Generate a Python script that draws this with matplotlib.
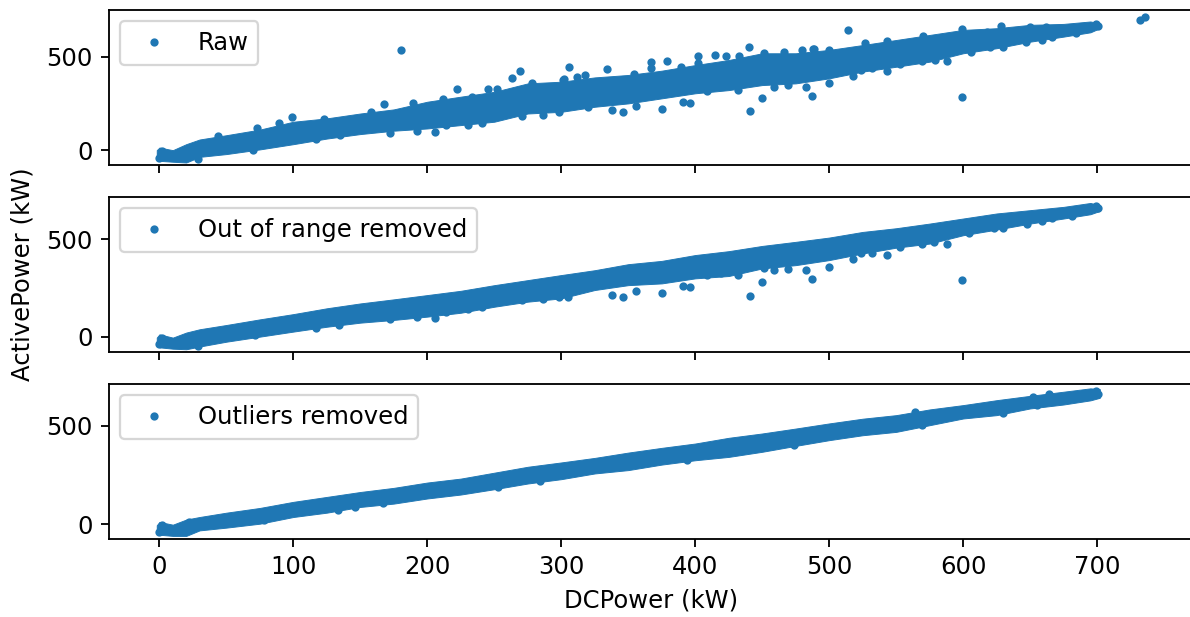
"""DC power vs active power, three cleaning stages."""

import matplotlib
matplotlib.use("Agg")
import matplotlib.pyplot as plt

plt.rcParams["font.size"] = 10.6

# the clouds are too dense to read point by point: keep their edges read off
# the picture at stops along x, plus the single points that can be told apart
raw_x = [-2, 0, 10, 20, 30, 50, 75, 100, 125, 150, 175, 200, 225, 250, 275, 300, 325, 350, 375,
         400, 425, 450, 475, 500, 525, 550, 575, 600, 625, 650, 675, 695, 702]
raw_top = [0, 14, 0, 32, 57, 80, 110, 152, 170, 196, 218, 259, 286, 312, 357, 366, 389, 402, 425,
           455, 482, 518, 518, 536, 562, 589, 616, 643, 652, 670, 675, 688, 678]
raw_low = [-40, -57, -62, -66, -36, -21, 4, 32, 62, 86, 104, 116, 134, 152, 196, 205, 232, 250, 277,
           304, 321, 348, 357, 384, 420, 446, 473, 518, 545, 580, 607, 630, 652]
raw_pts_x = [180, 222, 245, 252, 99, 168, 206, 241, 192, 230, 29, 269, 263, 306, 334, 318, 367, 379,
             402, 415, 423, 433, 440, 514, 338, 346, 356, 375, 391, 396, 441, 450, 459, 469, 483,
             487, 500, 518, 543, 480, 466, 489, 451, 367, 402, 302, 278, 271, 599, 732, 736, 628,
             599, 570, 588, 579, 569, 553, 532, 524, 488, 650, 659, 666, 684, 606, 620,
             44, 73, 89, 123, 158, 189, 212, 233, 70, 117, 135, 172, 214, 286, 298, 320, 409, 432,
             290, 301, 312, 354, 389, 500, 527, 543, 618, 662, 630, 647, 0, 1, 2, 699, 701]
raw_pts_y = [536, 329, 329, 329, 179, 246, 96, 146, 104, 137, -48, 423, 384, 446, 434, 402, 471, 479,
             504, 509, 504, 505, 554, 641, 214, 202, 234, 221, 259, 252, 209, 279, 339, 346, 339,
             289, 357, 396, 423, 536, 523, 541, 518, 437, 468, 379, 357, 184, 284, 696, 711, 664,
             646, 612, 479, 482, 479, 461, 437, 429, 541, 661, 589, 607, 625, 527, 554,
             77, 116, 143, 168, 205, 250, 275, 286, 0, 62, 80, 93, 134, 188, 205, 229, 318, 321,
             336, 375, 389, 407, 446, 536, 571, 586, 634, 661, 550, 580, -40, -20, -5, 672, 662]

range_x = [-2, 0, 10, 20, 30, 50, 75, 100, 125, 150, 175, 200, 225, 250, 275, 300, 325, 350, 375,
           400, 425, 450, 475, 500, 525, 550, 575, 600, 625, 650, 675, 695, 702]
range_top = [-5, 12, -5, 21, 38, 60, 89, 116, 146, 171, 192, 214, 236, 265, 291, 317, 342, 373, 390,
             420, 440, 467, 488, 510, 539, 558, 582, 608, 634, 651, 668, 688, 676]
range_low = [-40, -55, -62, -65, -51, -26, 0, 26, 51, 72, 86, 103, 123, 154, 180, 197, 240, 265, 274,
             300, 312, 351, 368, 394, 428, 458, 479, 522, 551, 582, 608, 630, 647]
range_pts_x = [206, 241, 192, 230, 29, 338, 346, 356, 375, 391, 396, 441, 450, 459, 469, 483, 487,
               500, 518, 543, 271, 286, 298, 305, 599, 588, 578, 569, 553, 532, 524, 659, 666, 681,
               71, 117, 134, 172, 214, 409, 432, 419, 451, 604, 623, 630, 648, 0, 1, 2, 699, 701]
range_pts_y = [96, 152, 99, 140, -48, 214, 205, 235, 223, 260, 253, 211, 283, 342, 349, 342, 295,
               356, 402, 421, 188, 192, 205, 202, 289, 479, 488, 479, 462, 433, 428, 596, 613, 622,
               9, 43, 60, 89, 128, 317, 317, 325, 351, 531, 557, 557, 582, -40, -20, -5, 672, 662]

clean_x = [-2, 0, 10, 20, 30, 50, 75, 100, 125, 150, 175, 200, 225, 250, 275, 300, 325, 350, 375,
           400, 425, 450, 475, 500, 525, 550, 575, 600, 625, 650, 675, 695, 702]
clean_top = [-5, 12, -2, 24, 37, 59, 83, 114, 139, 164, 185, 212, 232, 262, 292, 314, 337, 364, 388,
             410, 439, 461, 486, 512, 536, 554, 583, 605, 630, 652, 673, 690, 686]
clean_low = [-35, -53, -59, -59, -31, -17, 3, 37, 59, 88, 105, 131, 151, 178, 207, 229, 258, 275, 303,
             325, 342, 368, 398, 427, 452, 469, 503, 537, 554, 588, 608, 629, 642]
clean_pts_x = [133, 146, 167, 78, 22, 284, 253, 394, 474, 655, 630, 569, 652, 664, 564,
               0, 1, 2, 699, 701]
clean_pts_y = [73, 86, 106, 20, 14, 218, 187, 326, 404, 603, 564, 505, 646, 660, 570,
               -40, -20, -5, 675, 660]

panels = [
    ("Raw", raw_x, raw_top, raw_low, raw_pts_x, raw_pts_y, (-80, 750)),
    ("Out of range removed", range_x, range_top, range_low, range_pts_x, range_pts_y, (-80, 719)),
    ("Outliers removed", clean_x, clean_top, clean_low, clean_pts_x, clean_pts_y, (-76, 712)),
]

fig, axes = plt.subplots(3, 1, sharex=True, figsize=(1190 / 165, 617 / 165), dpi=165)
fig.subplots_adjust(left=0.0912, right=1.003, top=0.984, bottom=0.126, hspace=0.205)

for ax, (label, x, top, low, pts_x, pts_y, ylim) in zip(axes, panels):
    ax.fill_between(x, low, top, color="C0", linewidth=0.4)
    ax.plot(pts_x, pts_y, ".", color="C0", markersize=5.2, label=label)
    ax.set_ylim(*ylim)
    ax.set_yticks([0, 500])
    ax.legend(loc="upper left", borderaxespad=0.47)

axes[2].set_xlim(-38, 772)
axes[2].set_xticks(range(0, 701, 100))
axes[2].set_xlabel("DCPower (kW)")
axes[1].set_ylabel("ActivePower (kW)", labelpad=5)

fig.savefig("out.png")
